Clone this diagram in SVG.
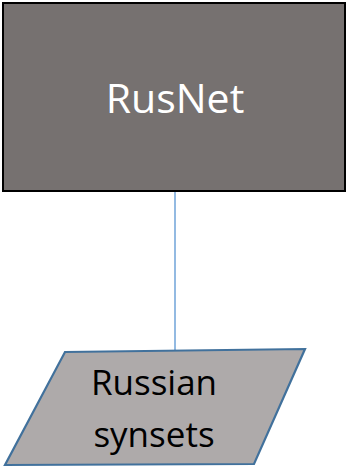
<svg xmlns="http://www.w3.org/2000/svg" width="348" height="469" viewBox="0 0 348 469">
<style>
.lbl{font-family:"Open Sans","Liberation Sans",sans-serif;text-anchor:middle}
</style>
<rect width="348" height="469" fill="#ffffff"/>
<g id="connectors">
<line x1="175" y1="192" x2="175" y2="350" stroke="#6FA3D8" stroke-width="1.5"/>
</g>
<g id="rusnet">
<rect x="3" y="3" width="342" height="188" fill="#767170" stroke="#000000" stroke-width="2"/>
<text class="lbl" x="175" y="113" font-size="41" fill="#ffffff">RusNet</text>
</g>
<g id="russian-synsets">
<polygon points="65,352 305,349 254,464 5,465" fill="#AEAAAA" stroke="#41719C" stroke-width="2.2" stroke-linejoin="miter"/>
<text class="lbl" x="154" y="395" font-size="35" fill="#000000">Russian</text>
<text class="lbl" x="154" y="447" font-size="35" fill="#000000">synsets</text>
</g>
</svg>
